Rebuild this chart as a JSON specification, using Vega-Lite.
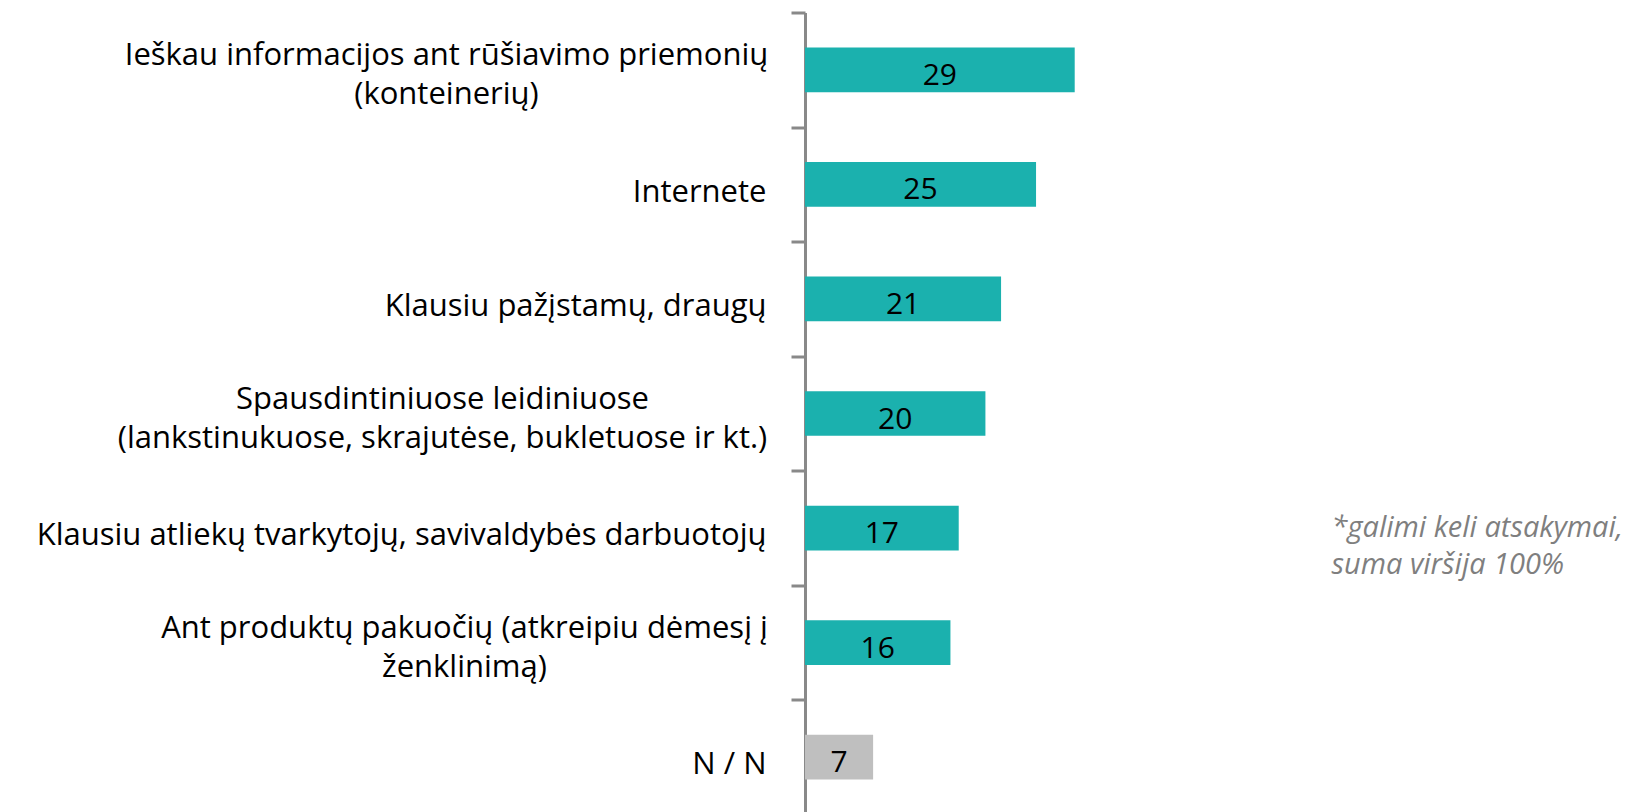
{
  "$schema": "https://vega.github.io/schema/vega-lite/v6.json",
  "width": 822,
  "height": 802,
  "autosize": {"type": "none"},
  "padding": {"left": 805, "top": 12.5, "right": 0, "bottom": 0},
  "background": "white",
  "config": {"view": {"stroke": null}, "font": "Open Sans"},
  "data": {
    "values": [
      {"cat": "Ieškau informacijos ant rūšiavimo priemonių|(konteinerių)", "value": 29.3, "type": "main"},
      {"cat": "Internete", "value": 25.1, "type": "main"},
      {"cat": "Klausiu pažįstamų, draugų", "value": 21.3, "type": "main"},
      {"cat": "Spausdintiniuose leidiniuose|(lankstinukuose, skrajutėse, bukletuose ir kt.)", "value": 19.6, "type": "main"},
      {"cat": "Klausiu atliekų tvarkytojų,  savivaldybės  darbuotojų", "value": 16.7, "type": "main"},
      {"cat": "Ant produktų pakuočių (atkreipiu  dėmesį į|ženklinimą)", "value": 15.8, "type": "main"},
      {"cat": "N / N", "value": 7.4, "type": "nn"}
    ]
  },
  "encoding": {
    "y": {
      "field": "cat",
      "type": "nominal",
      "sort": null,
      "scale": {"paddingInner": 0.61, "paddingOuter": 0.305},
      "axis": {
        "title": null,
        "labelExpr": "split(datum.label, '|')",
        "labelFont": "Open Sans",
        "labelFontSize": 31,
        "labelColor": "#000000",
        "labelLineHeight": 39,
        "labelLimit": 900,
        "labelAlign": {"condition": {"test": "indexof(datum.value, '|') >= 0", "value": "center"}, "value": "right"},
        "labelPadding": {"condition": [
          {"test": "indexof(datum.value, 'Ieškau') == 0", "value": 345},
          {"test": "indexof(datum.value, 'Spausdintiniuose') == 0", "value": 349},
          {"test": "indexof(datum.value, 'Ant produktų') == 0", "value": 327}
        ], "value": 25},
        "tickBand": "center",
        "tickOffset": -57.3,
        "labelOffset": {"condition": {"test": "indexof(datum.value, '|') >= 0", "value": 43}, "value": 65},
        "tickSize": 14,
        "tickWidth": 3,
        "tickColor": "#898989",
        "domainColor": "#898989",
        "domainWidth": 3
      }
    }
  },
  "layer": [
    {
      "mark": {"type": "bar"},
      "encoding": {
        "x": {"field": "value", "type": "quantitative", "scale": {"domain": [0, 89.3], "nice": false, "zero": true}, "axis": null},
        "color": {"field": "type", "type": "nominal", "scale": {"domain": ["main", "nn"], "range": ["#1BB1AE", "#BFBFBF"]}, "legend": null}
      }
    },
    {
      "mark": {"type": "text", "align": "center", "baseline": "middle", "fontSize": 30, "font": "Open Sans", "color": "#000000", "dy": 6},
      "encoding": {
        "x": {"field": "value", "type": "quantitative", "scale": {"domain": [0, 178.6], "nice": false, "zero": true}, "axis": null},
        "text": {"field": "value", "type": "quantitative", "format": ".0f"}
      }
    },
    {
      "data": {"values": [{"note": "note"}]},
      "mark": {"type": "text", "align": "left", "baseline": "middle", "fontSize": 29, "font": "Open Sans", "fontStyle": "italic", "color": "#7F7F7F", "lineHeight": 37, "dy": 0, "text": ["*galimi keli atsakymai,", "suma viršija 100%"]},
      "encoding": {
        "x": {"datum": 57.2, "type": "quantitative", "scale": {"domain": [0, 89.3], "nice": false, "zero": true}, "axis": null},
        "y": {"datum": "Klausiu atliekų tvarkytojų,  savivaldybės  darbuotojų", "type": "nominal"}
      }
    }
  ],
  "resolve": {"scale": {"x": "independent"}}
}
